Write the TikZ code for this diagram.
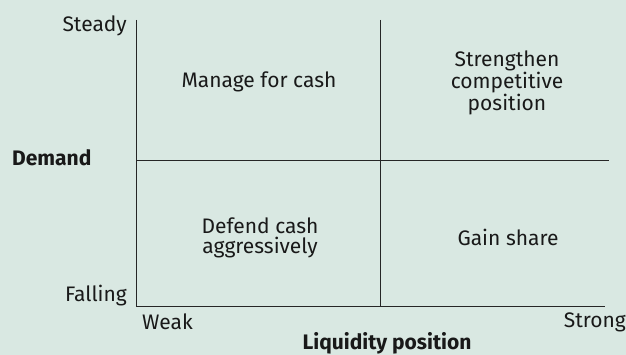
\documentclass[tikz,border=0pt]{standalone}
\usepackage{fontspec}
\setmainfont{Fira Sans}
\begin{document}
\begin{tikzpicture}[x=1pt,y=-1pt,
  axis/.style={draw=black!85,line width=0.9pt},
  lbl/.style={font=\fontsize{21}{20.5}\selectfont,text=black!90,inner sep=0pt},
  quad/.style={lbl,align=center},
  ttl/.style={lbl,font=\fontsize{21}{20.5}\selectfont\bfseries}]
\definecolor{bgc}{RGB}{217,232,226}
\fill[bgc] (0,0) rectangle (626,355);
\useasboundingbox (0,0) rectangle (626,355);
% corners of the grid
\coordinate (tl) at (136.5,20);
\coordinate (bl) at (136.5,306);
\coordinate (br) at (605,306);
\coordinate (mt) at (380.5,20);
\coordinate (mb) at (380.5,306);
\coordinate (ml) at (136.5,160);
\coordinate (mr) at (609,160);
% axes and dividers
\draw[axis] (tl) -- (bl) -- (br);
\draw[axis] (mt) -- (mb);
\draw[axis] (ml) -- (mr);
% axis end labels
\node[lbl,anchor=east] (steady) at (127,26) {Steady};
\node[lbl,anchor=east] (falling) at (127,296) {Falling};
\node[lbl,anchor=west] (weak) at (142,322) {Weak};
\node[lbl,anchor=east] (strong) at (626,322) {Strong};
% axis titles
\node[ttl,anchor=west] (demand) at (12,158) {Demand};
\node[ttl] (liq) at (387,343.5) {Liquidity position};
% quadrant texts
\node[quad] (q1) at (259,82) {Manage for cash};
\node[quad] (q2) at (507,83) {Strengthen\\competitive\\position};
\node[quad] (q3) at (260,238) {Defend cash\\aggressively};
\node[quad] (q4) at (508,237) {Gain share};
\end{tikzpicture}
\end{document}
